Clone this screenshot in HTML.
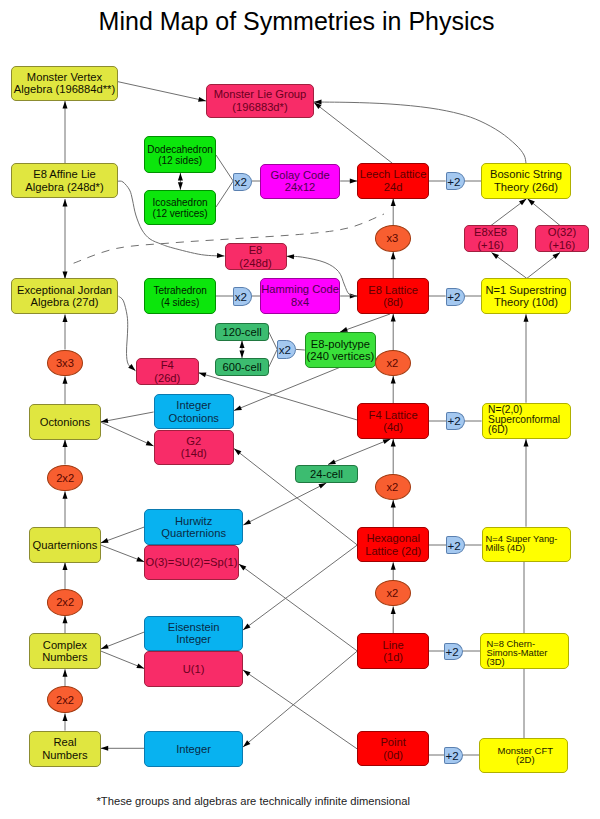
<!DOCTYPE html>
<html><head><meta charset="utf-8"><style>
html,body{margin:0;padding:0;background:#fff;}
body{width:600px;height:819px;position:relative;overflow:hidden;font-family:"Liberation Sans",sans-serif;}
.b{position:absolute;box-sizing:border-box;border:1px solid;border-radius:5px;display:flex;align-items:center;justify-content:center;text-align:center;font-size:11.2px;line-height:12.5px;}
.e{position:absolute;box-sizing:border-box;border:1px solid;border-radius:50%;display:flex;align-items:center;justify-content:center;font-size:11.2px;padding-bottom:0.5px;}
.d{position:absolute;box-sizing:border-box;border:1px solid;border-radius:2px 50% 50% 2px / 2px 50% 50% 2px;display:flex;align-items:center;justify-content:flex-start;padding-left:0.6px;font-size:11.6px;}
svg{position:absolute;left:0;top:0;}
svg line,svg path{stroke:#707070;stroke-width:1;}
.t{position:absolute;left:98.6px;top:5.5px;font-size:25px;line-height:30px;white-space:nowrap;color:#000;}
.f{position:absolute;left:96.5px;top:795px;font-size:11.2px;line-height:13px;white-space:nowrap;color:#222;}
.sc{justify-content:flex-start;text-align:left;padding-left:5.5px;padding-bottom:1px;font-size:10.2px;line-height:9.9px;}
.ym{justify-content:flex-start;text-align:left;padding-left:3px;padding-bottom:3px;font-size:9.4px;line-height:9px;}
.cs{justify-content:flex-start;text-align:left;padding-left:5px;padding-top:3.5px;font-size:9.4px;line-height:9px;}
.g{font-size:10px;line-height:11.2px;padding-top:1px;}
.sm{border-radius:4px;}
.cft{font-size:9.5px;line-height:9.6px;padding-left:3px;}
</style></head><body>
<div class="t">Mind Map of Symmetries in Physics</div>

<svg width="600" height="819" viewBox="0 0 600 819"><line x1="118" y1="81.7" x2="206" y2="101"/><polygon points="206.0,101.0 198.1,101.8 199.2,97.0" fill="#000"/><line x1="65" y1="164" x2="65" y2="101"/><polygon points="65.0,101.0 67.5,108.5 62.5,108.5" fill="#000"/><line x1="65" y1="199" x2="65" y2="279"/><polygon points="65.0,279.0 62.5,271.5 67.5,271.5" fill="#000"/><polygon points="65.0,199.0 67.5,206.5 62.5,206.5" fill="#000"/><line x1="65" y1="349.5" x2="65" y2="314.5"/><polygon points="65.0,314.5 67.5,322.0 62.5,322.0" fill="#000"/><line x1="65" y1="404.5" x2="65" y2="376.3"/><polygon points="65.0,376.3 67.5,383.8 62.5,383.8" fill="#000"/><line x1="65" y1="464.5" x2="65" y2="439.5"/><polygon points="65.0,439.5 67.5,447.0 62.5,447.0" fill="#000"/><line x1="65" y1="527" x2="65" y2="491.3"/><polygon points="65.0,491.3 67.5,498.8 62.5,498.8" fill="#000"/><line x1="65" y1="589.5" x2="65" y2="562.5"/><polygon points="65.0,562.5 67.5,570.0 62.5,570.0" fill="#000"/><line x1="65" y1="633.3" x2="65" y2="615.8"/><polygon points="65.0,615.8 67.5,623.3 62.5,623.3" fill="#000"/><line x1="65" y1="686.4" x2="65" y2="669.3"/><polygon points="65.0,669.3 67.5,676.8 62.5,676.8" fill="#000"/><line x1="65" y1="730.6" x2="65" y2="713.4"/><polygon points="65.0,713.4 67.5,720.9 62.5,720.9" fill="#000"/><line x1="392.5" y1="163.4" x2="314" y2="102.5"/><polygon points="314.0,102.5 321.5,105.1 318.4,109.1" fill="#000"/><line x1="180.4" y1="173" x2="180.4" y2="189.8"/><polygon points="180.4,189.8 177.9,182.3 182.9,182.3" fill="#000"/><polygon points="180.4,173.0 182.9,180.5 177.9,180.5" fill="#000"/><line x1="216" y1="155" x2="233.2" y2="181"/><line x1="216" y1="207" x2="233.2" y2="181"/><line x1="252" y1="181" x2="260" y2="181"/><line x1="340.2" y1="181" x2="357.3" y2="181"/><polygon points="357.3,181.0 349.8,183.5 349.8,178.5" fill="#000"/><line x1="429" y1="181" x2="445.6" y2="181"/><line x1="464.6" y1="181" x2="481" y2="181"/><line x1="393.2" y1="225.4" x2="393.2" y2="198.6"/><polygon points="393.2,198.6 395.7,206.1 390.7,206.1" fill="#000"/><line x1="393.2" y1="278" x2="393.2" y2="251.8"/><polygon points="393.2,251.8 395.7,259.3 390.7,259.3" fill="#000"/><line x1="491" y1="225.5" x2="526.5" y2="198.8"/><polygon points="526.5,198.8 522.0,205.3 519.0,201.3" fill="#000"/><line x1="560" y1="225.5" x2="527.5" y2="198.8"/><polygon points="527.5,198.8 534.9,201.6 531.7,205.5" fill="#000"/><line x1="526.8" y1="278.4" x2="491.5" y2="252.5"/><polygon points="491.5,252.5 499.0,254.9 496.1,259.0" fill="#000"/><line x1="526.8" y1="278.4" x2="560" y2="252.5"/><polygon points="560.0,252.5 555.6,259.1 552.5,255.1" fill="#000"/><line x1="526" y1="402.7" x2="526" y2="314.3"/><polygon points="526.0,314.3 528.5,321.8 523.5,321.8" fill="#000"/><line x1="526" y1="526.7" x2="526" y2="439"/><polygon points="526.0,439.0 528.5,446.5 523.5,446.5" fill="#000"/><line x1="524" y1="633.4" x2="524" y2="562"/><line x1="524" y1="738" x2="524" y2="668.6"/><line x1="216" y1="296" x2="233.2" y2="296"/><line x1="252" y1="296" x2="260" y2="296"/><line x1="340.2" y1="296" x2="357.3" y2="296"/><polygon points="357.3,296.0 349.8,298.5 349.8,293.5" fill="#000"/><line x1="429" y1="296" x2="445.6" y2="296"/><line x1="464.6" y1="296" x2="481" y2="296"/><line x1="357.3" y1="420" x2="198.5" y2="372.7"/><polygon points="198.5,372.7 206.4,372.4 205.0,377.2" fill="#000"/><line x1="390" y1="314" x2="340" y2="332"/><polygon points="340.0,332.0 346.2,327.1 347.9,331.8" fill="#000"/><line x1="339.5" y1="367.5" x2="234" y2="410.6"/><polygon points="234.0,410.6 240.0,405.4 241.9,410.1" fill="#000"/><line x1="242" y1="340.6" x2="242" y2="358"/><polygon points="242.0,358.0 239.5,350.5 244.5,350.5" fill="#000"/><polygon points="242.0,340.6 244.5,348.1 239.5,348.1" fill="#000"/><line x1="268.8" y1="332" x2="277.2" y2="349.4"/><line x1="268.8" y1="367" x2="277.2" y2="349.4"/><line x1="296" y1="349.4" x2="304.8" y2="350"/><line x1="153.6" y1="412" x2="100.5" y2="422"/><polygon points="100.5,422.0 107.4,418.2 108.3,423.1" fill="#000"/><line x1="100.5" y1="422" x2="153.6" y2="446"/><polygon points="153.6,446.0 145.7,445.2 147.8,440.6" fill="#000"/><line x1="429" y1="421" x2="446" y2="421"/><line x1="464.8" y1="421" x2="481.6" y2="421"/><line x1="393.2" y1="473.8" x2="393.2" y2="439"/><polygon points="393.2,439.0 395.7,446.5 390.7,446.5" fill="#000"/><line x1="393.2" y1="350" x2="393.2" y2="314"/><polygon points="393.2,314.0 395.7,321.5 390.7,321.5" fill="#000"/><line x1="393.2" y1="403" x2="393.2" y2="376"/><polygon points="393.2,376.0 395.7,383.5 390.7,383.5" fill="#000"/><line x1="393.2" y1="527" x2="393.2" y2="500"/><polygon points="393.2,500.0 395.7,507.5 390.7,507.5" fill="#000"/><line x1="328" y1="464.5" x2="390.5" y2="439"/><polygon points="390.5,439.0 384.5,444.1 382.6,439.5" fill="#000"/><polygon points="328.0,464.5 334.0,459.4 335.9,464.0" fill="#000"/><line x1="326.3" y1="483" x2="243.3" y2="525"/><polygon points="243.3,525.0 248.9,519.4 251.1,523.8" fill="#000"/><polygon points="326.3,483.0 320.7,488.6 318.5,484.2" fill="#000"/><line x1="357.3" y1="545" x2="234" y2="448.6"/><polygon points="234.0,448.6 241.4,451.2 238.4,455.2" fill="#000"/><line x1="357.3" y1="545" x2="243" y2="630"/><polygon points="243.0,630.0 247.5,623.5 250.5,627.5" fill="#000"/><line x1="429" y1="545" x2="446" y2="545"/><line x1="464.8" y1="545" x2="481.6" y2="545"/><line x1="144.3" y1="527" x2="100.7" y2="543"/><polygon points="100.7,543.0 106.9,538.1 108.6,542.8" fill="#000"/><line x1="100.7" y1="545" x2="144.2" y2="561.8"/><polygon points="144.2,561.8 136.3,561.4 138.1,556.8" fill="#000"/><line x1="393.2" y1="580.2" x2="393.2" y2="562.3"/><polygon points="393.2,562.3 395.7,569.8 390.7,569.8" fill="#000"/><line x1="393.2" y1="633.3" x2="393.2" y2="606.4"/><polygon points="393.2,606.4 395.7,613.9 390.7,613.9" fill="#000"/><line x1="357.3" y1="651" x2="238.8" y2="564"/><polygon points="238.8,564.0 246.3,566.4 243.4,570.5" fill="#000"/><line x1="357.3" y1="651" x2="243" y2="747"/><polygon points="243.0,747.0 247.1,740.3 250.4,744.1" fill="#000"/><line x1="357.3" y1="749" x2="243" y2="670"/><polygon points="243.0,670.0 250.6,672.2 247.7,676.3" fill="#000"/><line x1="429" y1="651" x2="444" y2="651"/><line x1="462.6" y1="651" x2="480.4" y2="651"/><line x1="429" y1="755" x2="444" y2="755"/><line x1="462.6" y1="755" x2="479.6" y2="755"/><line x1="144.3" y1="632" x2="100.8" y2="649"/><polygon points="100.8,649.0 106.9,643.9 108.7,648.6" fill="#000"/><line x1="100.7" y1="651" x2="144.3" y2="668.6"/><polygon points="144.3,668.6 136.4,668.1 138.3,663.5" fill="#000"/><line x1="144.2" y1="748.3" x2="100.7" y2="748.3"/><polygon points="100.7,748.3 108.2,745.8 108.2,750.8" fill="#000"/><path d="M526.0,163.3 C525.7,161.9 525.7,158.1 524.0,155.0 C522.3,151.9 520.0,148.8 516.0,145.0 C512.0,141.2 506.0,136.0 500.0,132.0 C494.0,128.0 486.7,124.0 480.0,121.0 C473.3,118.0 468.3,116.2 460.0,114.0 C451.7,111.8 441.7,109.7 430.0,108.0 C418.3,106.3 403.3,104.9 390.0,104.0 C376.7,103.1 362.7,102.7 350.0,102.4 C337.3,102.1 320.0,102.1 314.0,102.0" fill="none"/><polygon points="314.0,102.0 321.5,99.6 321.5,104.6" fill="#000"/><path d="M118.0,181.2 C118.8,181.3 121.1,180.5 123.0,182.0 C124.9,183.5 128.0,187.0 129.6,190.0 C131.2,193.0 131.5,195.8 132.5,200.0 C133.5,204.2 134.2,210.0 135.8,215.0 C137.4,220.0 139.6,226.0 142.0,230.0 C144.4,234.0 146.8,236.7 150.0,239.0 C153.2,241.3 157.2,242.5 161.0,244.0 C164.8,245.5 166.2,246.2 173.0,248.0 C179.8,249.8 193.0,253.4 201.6,254.7 C210.2,256.0 220.7,255.8 224.5,256.0" fill="none"/><polygon points="224.5,256.0 216.9,258.1 217.2,253.1" fill="#000"/><path d="M357.3,296.5 C355.9,296.1 351.1,295.9 349.0,294.0 C346.9,292.1 346.2,288.8 344.5,285.0 C342.8,281.2 341.8,275.2 338.5,271.5 C335.2,267.8 331.0,264.9 325.0,262.5 C319.0,260.1 308.9,258.2 302.5,257.2 C296.1,256.1 289.2,256.4 286.5,256.2" fill="none"/><polygon points="286.5,256.2 294.1,254.2 293.8,259.2" fill="#000"/><path d="M118.5,296.2 C119.3,297.0 122.0,297.7 123.4,300.9 C124.8,304.1 126.4,311.0 127.1,315.5 C127.8,320.0 127.7,323.6 127.7,327.7 C127.7,331.8 127.3,335.7 127.1,340.0 C126.9,344.3 126.3,349.3 126.5,353.4 C126.7,357.5 126.8,361.5 128.3,364.4 C129.8,367.3 134.3,369.7 135.5,370.8" fill="none"/><polygon points="135.5,370.8 128.2,367.7 131.6,363.9" fill="#000"/><path d="M73.6,263.2 C80.8,260.7 100.1,251.8 116.7,248.4 C133.3,245.0 154.1,244.4 173.0,242.8 C191.9,241.2 207.7,240.5 230.0,239.0 C252.3,237.5 286.7,235.7 306.7,233.8 C326.7,231.9 337.1,230.8 350.0,227.5 C362.9,224.2 378.3,216.2 384.0,214.0" fill="none" stroke-dasharray="8,7"/></svg>
<div class="b" style="left:11px;top:65.5px;width:107px;height:35.8px;background:#e0e640;border-color:#8c8c30;color:#101000">Monster Vertex<br>Algebra (196884d**)</div>
<div class="b" style="left:11px;top:163.3px;width:107px;height:35.2px;background:#e0e640;border-color:#8c8c30;color:#101000">E8 Affine Lie<br>Algebra (248d*)</div>
<div class="b" style="left:11px;top:278.3px;width:107px;height:35.7px;background:#e0e640;border-color:#8c8c30;color:#101000">Exceptional Jordan<br>Algebra (27d)</div>
<div class="b" style="left:29px;top:404.2px;width:71.8px;height:35.6px;background:#e0e640;border-color:#8c8c30;color:#101000">Octonions</div>
<div class="b" style="left:29px;top:527px;width:71.8px;height:35.5px;background:#e0e640;border-color:#8c8c30;color:#101000">Quarternions</div>
<div class="b" style="left:29px;top:633.2px;width:71.8px;height:36.1px;background:#e0e640;border-color:#8c8c30;color:#101000">Complex<br>Numbers</div>
<div class="b" style="left:29px;top:730.6px;width:71.8px;height:36.1px;background:#e0e640;border-color:#8c8c30;color:#101000">Real<br>Numbers</div>
<div class="b" style="left:357.3px;top:163.4px;width:71.7px;height:35.2px;background:#ff0000;border-color:#a00000;color:#5c0000">Leech Lattice<br>24d</div>
<div class="b" style="left:357.3px;top:278px;width:71.7px;height:36px;background:#ff0000;border-color:#a00000;color:#5c0000">E8 Lattice<br>(8d)</div>
<div class="b" style="left:357.3px;top:403px;width:71.7px;height:36px;background:#ff0000;border-color:#a00000;color:#5c0000">F4 Lattice<br>(4d)</div>
<div class="b" style="left:357.3px;top:527px;width:71.7px;height:35.3px;background:#ff0000;border-color:#a00000;color:#5c0000">Hexagonal<br>Lattice (2d)</div>
<div class="b" style="left:357.3px;top:633.3px;width:71.7px;height:35.7px;background:#ff0000;border-color:#a00000;color:#5c0000">Line<br>(1d)</div>
<div class="b" style="left:357.3px;top:731.2px;width:71.7px;height:35.3px;background:#ff0000;border-color:#a00000;color:#5c0000">Point<br>(0d)</div>
<div class="b" style="left:205.8px;top:83.5px;width:108.4px;height:34.8px;background:#f82c68;border-color:#a0203f;color:#6a0020">Monster Lie Group<br>(196883d*)</div>
<div class="b" style="left:224.5px;top:243px;width:62px;height:27.3px;background:#f82c68;border-color:#a0203f;color:#6a0020">E8<br>(248d)</div>
<div class="b" style="left:463.5px;top:225.3px;width:54.2px;height:27.2px;background:#f82c68;border-color:#a0203f;color:#6a0020">E8xE8<br>(+16)</div>
<div class="b" style="left:535.3px;top:225.3px;width:53.4px;height:27.2px;background:#f82c68;border-color:#a0203f;color:#6a0020">O(32)<br>(+16)</div>
<div class="b" style="left:136px;top:358px;width:62.5px;height:27.3px;background:#f82c68;border-color:#a0203f;color:#6a0020">F4<br>(26d)</div>
<div class="b" style="left:153.6px;top:430px;width:80.4px;height:34.6px;background:#f82c68;border-color:#a0203f;color:#6a0020">G2<br>(14d)</div>
<div class="b" style="left:144.2px;top:544.7px;width:94.6px;height:35.6px;background:#f82c68;border-color:#a0203f;color:#6a0020">O(3)=SU(2)=Sp(1)</div>
<div class="b" style="left:144.3px;top:651px;width:98.7px;height:36px;background:#f82c68;border-color:#a0203f;color:#6a0020">U(1)</div>
<div class="b" style="left:153.6px;top:394px;width:80.4px;height:35px;background:#08b2f0;border-color:#0a7ab0;color:#0a2a45">Integer<br>Octonions</div>
<div class="b" style="left:144.3px;top:509.3px;width:98.7px;height:35.5px;background:#08b2f0;border-color:#0a7ab0;color:#0a2a45">Hurwitz<br>Quarternions</div>
<div class="b" style="left:144.3px;top:615.6px;width:98.7px;height:35.4px;background:#08b2f0;border-color:#0a7ab0;color:#0a2a45">Eisenstein<br>Integer</div>
<div class="b" style="left:144.2px;top:731px;width:98.8px;height:35.7px;background:#08b2f0;border-color:#0a7ab0;color:#0a2a45">Integer</div>
<div class="b g" style="left:144.2px;top:136.4px;width:71.8px;height:36.6px;background:#0ce60c;border-color:#009000;color:#002000">Dodecahedron<br>(12 sides)</div>
<div class="b g" style="left:144.2px;top:189.8px;width:71.8px;height:35.5px;background:#0ce60c;border-color:#009000;color:#002000">Icosahedron<br>(12 vertices)</div>
<div class="b g" style="left:144.2px;top:278px;width:71.8px;height:36.3px;background:#0ce60c;border-color:#009000;color:#002000">Tetrahedron<br>(4 sides)</div>
<div class="b" style="left:304.8px;top:332px;width:71.2px;height:36px;background:#3ae03a;border-color:#209020;color:#002000">E8-polytype<br>(240 vertices)</div>
<div class="b sm" style="left:215.3px;top:323.3px;width:53.5px;height:17.3px;background:#3cbc70;border-color:#207840;color:#001a08">120-cell</div>
<div class="b sm" style="left:215.3px;top:358px;width:53.5px;height:17.6px;background:#3cbc70;border-color:#207840;color:#001a08">600-cell</div>
<div class="b sm" style="left:295.2px;top:464.5px;width:62.8px;height:18.5px;background:#3cbc70;border-color:#207840;color:#001a08">24-cell</div>
<div class="b" style="left:260px;top:163.5px;width:80.2px;height:35.2px;background:#ff00ff;border-color:#a000a0;color:#500050">Golay Code<br>24x12</div>
<div class="b" style="left:260px;top:278px;width:80.2px;height:35.8px;background:#ff00ff;border-color:#a000a0;color:#500050">Hamming Code<br>8x4</div>
<div class="b" style="left:481px;top:163.2px;width:90px;height:35.6px;background:#ffff00;border-color:#b0b000;color:#1a1a00">Bosonic String<br>Theory (26d)</div>
<div class="b" style="left:481px;top:278.4px;width:90px;height:35.6px;background:#ffff00;border-color:#b0b000;color:#1a1a00">N=1 Superstring<br>Theory (10d)</div>
<div class="b sc" style="left:481.6px;top:402.7px;width:89.2px;height:36.3px;background:#ffff00;border-color:#b0b000;color:#1a1a00">N=(2,0)<br>Superconformal<br>(6D)</div>
<div class="b ym" style="left:481.6px;top:526.6px;width:89.4px;height:35.2px;background:#ffff00;border-color:#b0b000;color:#1a1a00">N=4 Super Yang-<br>Mills (4D)</div>
<div class="b cs" style="left:480.4px;top:633.4px;width:89px;height:35.2px;background:#ffff00;border-color:#b0b000;color:#1a1a00">N=8 Chern-<br>Simons-Matter<br>(3D)</div>
<div class="b cft" style="left:479.2px;top:737.5px;width:89.3px;height:35.5px;background:#ffff00;border-color:#b0b000;color:#1a1a00">Monster CFT<br>(2D)</div>
<div class="e" style="padding-left:0.3px;left:47px;top:349.5px;width:35.5px;height:26.8px;background:#f85e30;border-color:#a03a10;color:#5a0800">3x3</div>
<div class="e" style="padding-left:0.3px;left:47px;top:464.5px;width:36px;height:26.8px;background:#f85e30;border-color:#a03a10;color:#5a0800">2x2</div>
<div class="e" style="padding-left:0.3px;left:47px;top:589px;width:36px;height:26.5px;background:#f85e30;border-color:#a03a10;color:#5a0800">2x2</div>
<div class="e" style="padding-left:0.3px;left:47px;top:686.4px;width:35.6px;height:27px;background:#f85e30;border-color:#a03a10;color:#5a0800">2x2</div>
<div class="e" style="padding-right:1.5px;left:375.2px;top:225.4px;width:36px;height:26.4px;background:#f85e30;border-color:#a03a10;color:#5a0800">x3</div>
<div class="e" style="padding-right:1.5px;left:375.2px;top:350px;width:36px;height:26px;background:#f85e30;border-color:#a03a10;color:#5a0800">x2</div>
<div class="e" style="padding-right:1.5px;left:375.2px;top:473.8px;width:36px;height:26.2px;background:#f85e30;border-color:#a03a10;color:#5a0800">x2</div>
<div class="e" style="padding-right:1.5px;left:375.2px;top:580.2px;width:36px;height:26.2px;background:#f85e30;border-color:#a03a10;color:#5a0800">x2</div>
<div class="d" style="left:233px;top:172.5px;width:19px;height:18px;background:#a4c8f0;border-color:#5a80b0;color:#081830">x2</div>
<div class="d" style="left:233.1px;top:287.3px;width:18.9px;height:18.3px;background:#a4c8f0;border-color:#5a80b0;color:#081830">x2</div>
<div class="d" style="left:277.2px;top:340px;width:18.8px;height:18.8px;background:#a4c8f0;border-color:#5a80b0;color:#081830">x2</div>
<div class="d" style="left:445.6px;top:172px;width:19px;height:18px;background:#a4c8f0;border-color:#5a80b0;color:#081830">+2</div>
<div class="d" style="left:445.6px;top:287.5px;width:19px;height:18px;background:#a4c8f0;border-color:#5a80b0;color:#081830">+2</div>
<div class="d" style="left:446px;top:411.7px;width:18.8px;height:17.9px;background:#a4c8f0;border-color:#5a80b0;color:#081830">+2</div>
<div class="d" style="left:446px;top:536px;width:18.8px;height:18px;background:#a4c8f0;border-color:#5a80b0;color:#081830">+2</div>
<div class="d" style="left:444px;top:642.5px;width:18.6px;height:17.8px;background:#a4c8f0;border-color:#5a80b0;color:#081830">+2</div>
<div class="d" style="left:444px;top:746.7px;width:18.6px;height:17.6px;background:#a4c8f0;border-color:#5a80b0;color:#081830">+2</div>
<div class="f">*These groups and algebras are technically infinite dimensional</div>
</body></html>
